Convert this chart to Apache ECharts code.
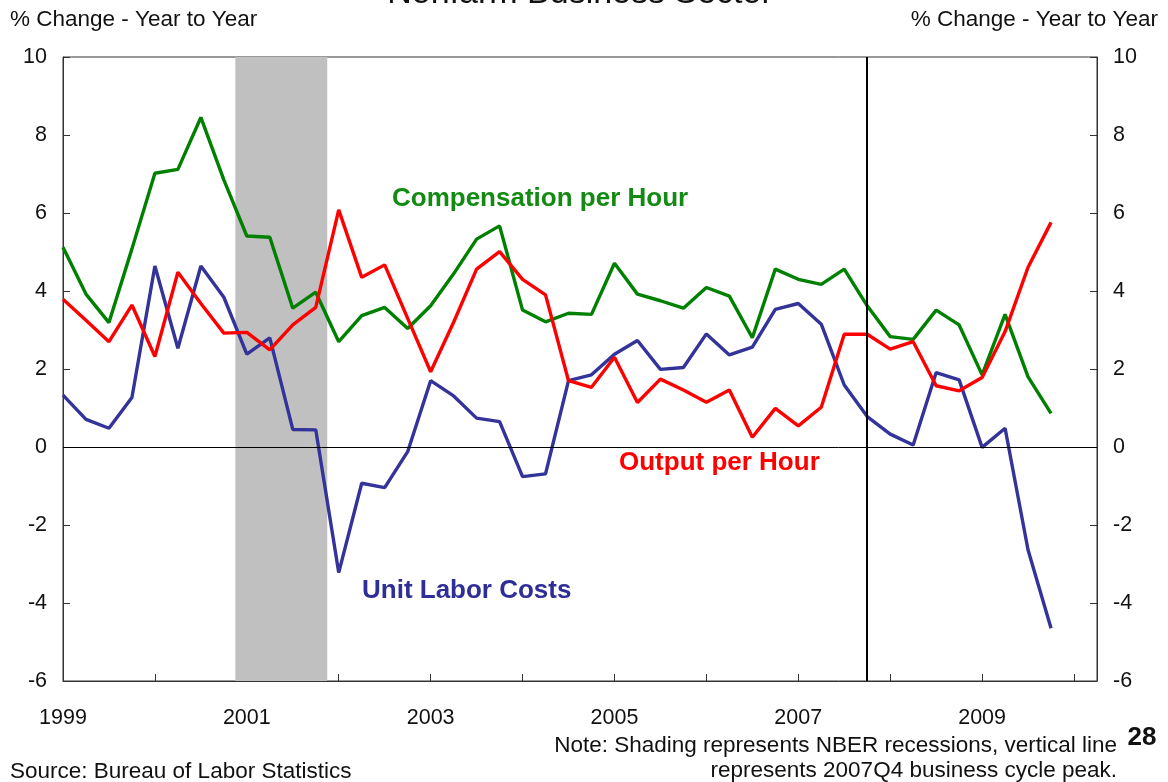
<!DOCTYPE html>
<html>
<head>
<meta charset="utf-8">
<script src="https://cdn.jsdelivr.net/npm/echarts@6/dist/echarts.min.js"></script>
<style>
html,body{margin:0;padding:0;background:#fff;}
#chart{width:1168px;height:782px;}
</style>
</head>
<body>
<div id="chart"></div>
<script>
const quarters = [
  '1999Q1','1999Q2','1999Q3','1999Q4','2000Q1','2000Q2','2000Q3','2000Q4',
  '2001Q1','2001Q2','2001Q3','2001Q4','2002Q1','2002Q2','2002Q3','2002Q4',
  '2003Q1','2003Q2','2003Q3','2003Q4','2004Q1','2004Q2','2004Q3','2004Q4',
  '2005Q1','2005Q2','2005Q3','2005Q4','2006Q1','2006Q2','2006Q3','2006Q4',
  '2007Q1','2007Q2','2007Q3','2007Q4','2008Q1','2008Q2','2008Q3','2008Q4',
  '2009Q1','2009Q2','2009Q3','2009Q4'
];
const compensationPerHour = [
  5.12, 3.92, 3.19, 5.08, 7.02, 7.12, 8.45, 6.85,
  5.41, 5.38, 3.56, 3.97, 2.70, 3.37, 3.58, 3.04,
  3.62, 4.44, 5.33, 5.67, 3.51, 3.21, 3.43, 3.40,
  4.71, 3.92, 3.75, 3.56, 4.09, 3.87, 2.80, 4.56,
  4.30, 4.17, 4.56, 3.62, 2.83, 2.76, 3.51, 3.13,
  1.85, 3.40, 1.80, 0.86
];
const outputPerHour = [
  3.79, 3.25, 2.70, 3.64, 2.32, 4.48, 3.68, 2.92,
  2.94, 2.49, 3.13, 3.58, 6.08, 4.35, 4.67, 3.30,
  1.93, 3.20, 4.56, 5.01, 4.30, 3.90, 1.70, 1.53,
  2.30, 1.14, 1.74, 1.46, 1.15, 1.46, 0.25, 0.99,
  0.54, 1.02, 2.89, 2.89, 2.51, 2.70, 1.57, 1.44,
  1.78, 2.96, 4.61, 5.76
];
const unitLaborCosts = [
  1.33, 0.71, 0.48, 1.27, 4.64, 2.53, 4.64, 3.84,
  2.38, 2.80, 0.45, 0.44, -3.22, -0.93, -1.04, -0.12,
  1.70, 1.31, 0.74, 0.65, -0.76, -0.69, 1.70, 1.85,
  2.38, 2.73, 1.99, 2.04, 2.90, 2.36, 2.56, 3.53,
  3.68, 3.15, 1.59, 0.78, 0.33, 0.05, 1.91, 1.72,
  -0.01, 0.48, -2.64, -4.65
];
const recession = ['2001Q1', '2001Q4'];
const cyclePeak = '2007Q4';
const yTicks = [-6, -4, -2, 0, 2, 4, 6, 8, 10];

function qToNum(q) {
  return parseInt(q.slice(0, 4), 10) + (parseInt(q.slice(5), 10) - 1) / 4;
}
function pairs(vals) {
  return vals.map((v, i) => [qToNum(quarters[i]), v]);
}

const FONT = '"Liberation Sans", Arial, sans-serif';
const chart = echarts.init(document.getElementById('chart'), null, {renderer: 'canvas'});

const yAxisBase = {
  type: 'value',
  min: yTicks[0],
  max: yTicks[yTicks.length - 1],
  interval: 2,
  splitLine: {show: false},
  axisLine: {show: true, lineStyle: {color: '#333', width: 1}},
  axisTick: {show: true, inside: true, length: 7, lineStyle: {color: '#333'}},
  axisLabel: {fontFamily: FONT, fontSize: 21.5, color: '#111', margin: 16}
};

const option = {
  backgroundColor: '#fff',
  animation: false,
  grid: {left: 63, right: 71, top: 57, bottom: 101, show: true, borderColor: '#333', borderWidth: 1},
  xAxis: {
    type: 'value',
    min: 1999,
    max: 2010.25,
    interval: 1,
    splitLine: {show: false},
    axisLine: {show: true, onZero: false, lineStyle: {color: '#333', width: 1}},
    axisTick: {show: true, inside: true, length: 7, lineStyle: {color: '#333'}},
    axisLabel: {
      fontFamily: FONT, fontSize: 21.5, color: '#111', margin: 26,
      formatter: v => (Math.abs(v - Math.round(v)) < 1e-6 && Math.round(v) % 2 === 1) ? String(Math.round(v)) : ''
    }
  },
  yAxis: [
    Object.assign({}, yAxisBase, {position: 'left'}),
    Object.assign({}, yAxisBase, {position: 'right'})
  ],
  graphic: [
    {type: 'text', left: 10, top: 8, style: {text: '% Change - Year to Year', font: '22.5px ' + FONT, fill: '#111'}},
    {type: 'text', right: 10, top: 8, style: {text: '% Change - Year to Year', font: '22.5px ' + FONT, fill: '#111'}},
    {type: 'text', x: 580, y: 11, style: {text: 'Nonfarm Business Sector', font: '34px ' + FONT, fill: '#111', align: 'center', verticalAlign: 'bottom'}},
    {type: 'text', left: 392, top: 186, style: {text: 'Compensation per Hour', font: 'bold 26px ' + FONT, fill: '#138a13'}},
    {type: 'text', left: 619, top: 450, style: {text: 'Output per Hour', font: 'bold 26px ' + FONT, fill: '#ff0000'}},
    {type: 'text', left: 362, top: 578, style: {text: 'Unit Labor Costs', font: 'bold 26px ' + FONT, fill: '#2e2e96'}},
    {type: 'text', left: 10, top: 760, style: {text: 'Source: Bureau of Labor Statistics', font: '22.5px ' + FONT, fill: '#111'}},
    {type: 'text', x: 1117, y: 746, style: {text: 'Note: Shading represents NBER recessions, vertical line', font: '22.5px ' + FONT, fill: '#111', align: 'right', verticalAlign: 'middle'}},
    {type: 'text', x: 1117, y: 771, style: {text: 'represents 2007Q4 business cycle peak.', font: '22.5px ' + FONT, fill: '#111', align: 'right', verticalAlign: 'middle'}},
    {type: 'text', x: 1142, y: 738, style: {text: '28', font: 'bold 26px ' + FONT, fill: '#111', align: 'center', verticalAlign: 'middle'}}
  ],
  series: [
    {
      name: 'Shading',
      type: 'line',
      data: [],
      silent: true,
      markArea: {
        silent: true,
        itemStyle: {color: '#c0c0c0'},
        data: [[{xAxis: qToNum(recession[0]) - 0.125}, {xAxis: qToNum(recession[1]) + 0.125}]]
      },
      markLine: {
        silent: true,
        symbol: 'none',
        label: {show: false},
        data: [
          {yAxis: 0, lineStyle: {color: '#000', width: 1, type: 'solid'}},
          {xAxis: qToNum(cyclePeak), lineStyle: {color: '#000', width: 2, type: 'solid'}}
        ]
      }
    },
    {
      name: 'Compensation per Hour', type: 'line', data: pairs(compensationPerHour),
      showSymbol: false, lineStyle: {color: '#008000', width: 3.4}, itemStyle: {color: '#008000'}, z: 3
    },
    {
      name: 'Output per Hour', type: 'line', data: pairs(outputPerHour),
      showSymbol: false, lineStyle: {color: '#ff0000', width: 3.4}, itemStyle: {color: '#ff0000'}, z: 4
    },
    {
      name: 'Unit Labor Costs', type: 'line', data: pairs(unitLaborCosts),
      showSymbol: false, lineStyle: {color: '#333399', width: 3.4}, itemStyle: {color: '#333399'}, z: 2
    }
  ]
};
chart.setOption(option);
</script>
</body>
</html>
